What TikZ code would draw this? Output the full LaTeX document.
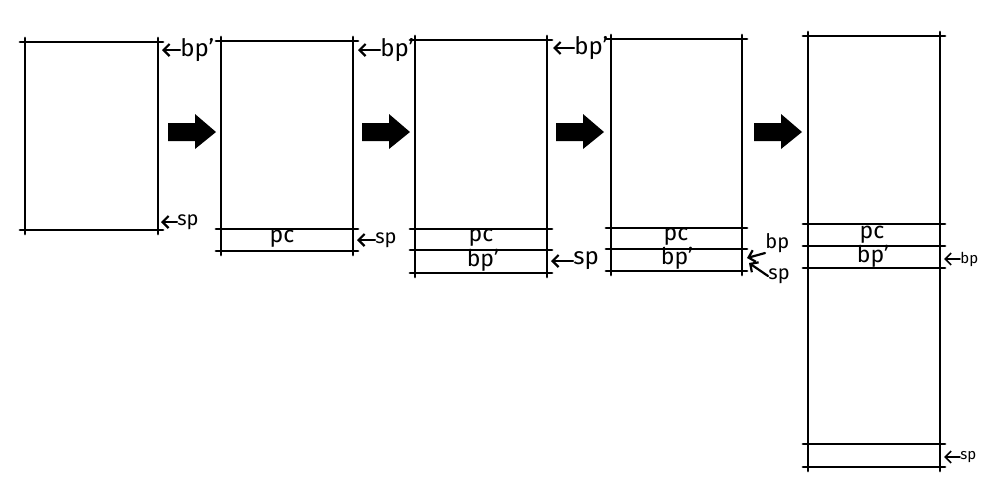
\documentclass[tikz,border=0pt]{standalone}
\usepackage{fontspec}
\setmainfont{Fira Sans}
\usetikzlibrary{arrows.meta}
\newcommand\skh[3]{\draw[sk] ({#1-5},#3) -- ({#2+5},#3);}
\newcommand\skbox[4]{%
  \draw[sk] (#1,{#3-4}) -- (#1,{#4+4});
  \draw[sk] (#2,{#3-4}) -- (#2,{#4+4});
  \skh{#1}{#2}{#3}\skh{#1}{#2}{#4}}
\newcommand\bigarr[1]{%
  \fill (#1,123) -- ({#1+27},123) -- ({#1+27},114) -- ({#1+48},132) -- ({#1+27},149) -- ({#1+27},141) -- (#1,141) -- cycle;}
\begin{document}
\begin{tikzpicture}[x=0.5pt,y=-0.5pt,
  sk/.style={line width=1.4pt,line cap=round},
  lbl/.style={font=\fontsize{12}{12}\selectfont,inner sep=0pt,anchor=west},
  lbls/.style={font=\fontsize{10}{10}\selectfont,inner sep=0pt,anchor=west},
  lblt/.style={font=\fontsize{7.5}{7.5}\selectfont,inner sep=0pt,anchor=west},
  cell/.style={font=\fontsize{11.5}{11.5}\selectfont,inner sep=0pt},
  pt/.style={sk,line width=1.1pt,-{Straight Barb[length=3pt,width=6pt]}}]
\useasboundingbox (0,0) rectangle (1000,500);
% box 1
\skbox{25}{158}{42}{230}
% box 2
\skbox{221}{353}{41}{251}
\skh{221}{353}{229}
% box 3
\skbox{415}{547}{40}{273}
\skh{415}{547}{229}\skh{415}{547}{250}
% box 4
\skbox{611}{742}{39}{271}
\skh{611}{742}{228}\skh{611}{742}{249}
% box 5
\skbox{808}{940}{36}{467}
\skh{808}{940}{224}\skh{808}{940}{246}\skh{808}{940}{268}\skh{808}{940}{444}
% big arrows
\bigarr{168}\bigarr{362}\bigarr{556}\bigarr{754}
% cell texts
\node[cell] (pc2) at (282,239) {pc};
\node[cell] (pc3) at (481,238) {pc};
\node[cell] (bq3) at (483,260) {bp'};
\node[cell] (pc4) at (676,237) {pc};
\node[cell] (bq4) at (677,258) {bp'};
\node[cell] (pc5) at (872,235) {pc};
\node[cell] (bq5) at (873,256) {bp'};
% labels box 1
\coordinate (e1t) at (162,50);
\node[lbl] (l1t) at (180,50) {bp'};
\draw[pt] (l1t.west) -- (e1t);
\coordinate (e1b) at (161,222);
\node[lbls] (l1b) at (177,222) {sp};
\draw[pt] (l1b.west) -- (e1b);
% labels box 2
\coordinate (e2t) at (358,50);
\node[lbl] (l2t) at (380,50) {bp'};
\draw[pt] (l2t.west) -- (e2t);
\coordinate (e2b) at (357,240);
\node[lbls] (l2b) at (375,240) {sp};
\draw[pt] (l2b.west) -- (e2b);
% labels box 3
\coordinate (e3t) at (553,48);
\node[lbl] (l3t) at (574,48) {bp'};
\draw[pt] (l3t.west) -- (e3t);
\coordinate (e3b) at (551,261);
\node[lbl] (l3b) at (573,261) {sp};
\draw[pt] (l3b.west) -- (e3b);
% labels box 4
\coordinate (e4t) at (747,258);
\node[lbls] (l4t) at (765,243) {bp};
\draw[pt] (l4t.south west) -- (e4t);
\coordinate (e4b) at (749,263);
\node[lbls] (l4b) at (768,276) {sp};
\draw[pt] (l4b.west) -- (e4b);
% labels box 5
\coordinate (e5t) at (944,259);
\node[lblt] (l5t) at (960,259) {bp};
\draw[pt,line width=0.8pt] (l5t.west) -- (e5t);
\coordinate (e5b) at (944,457);
\node[lblt] (l5b) at (960,457) {sp};
\draw[pt,line width=0.8pt] (l5b.west) -- (e5b);
\end{tikzpicture}
\end{document}
